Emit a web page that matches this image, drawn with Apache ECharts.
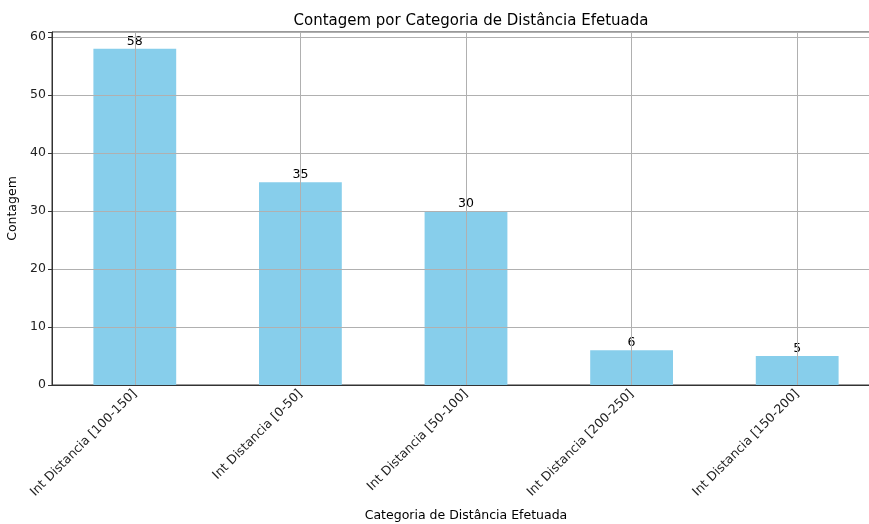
<!DOCTYPE html>
<html>
<head>
<meta charset="utf-8">
<script src="https://cdn.jsdelivr.net/npm/echarts@6/dist/echarts.min.js"></script>
<style>
  html, body { margin: 0; padding: 0; background: #fff; overflow: hidden; }
  #chart { width: 869px; height: 524px; }
</style>
</head>
<body>
<div id="chart"></div>
<script>
const categories = [
  'Int Distancia [100-150]',
  'Int Distancia [0-50]',
  'Int Distancia [50-100]',
  'Int Distancia [200-250]',
  'Int Distancia [150-200]',
];
const counts = [58, 35, 30, 6, 5];
const yTicks = [0, 10, 20, 30, 40, 50, 60];

const font = 'DejaVu Sans';
const gridColor = '#b0b0b0';

const chart = echarts.init(document.getElementById('chart'));
chart.setOption({
  animation: false,
  textStyle: { fontFamily: font },
  title: {
    text: 'Contagem por Categoria de Distância Efetuada',
    left: 466,
    textAlign: 'center',
    top: 9,
    textStyle: { fontSize: 15, fontWeight: 'normal', color: '#000', fontFamily: font },
  },
  grid: {
    left: 52,
    top: 32,
    width: 828,
    height: 353,
    outerBoundsMode: 'none',
    containLabel: false,
    show: true,
    borderColor: '#333',
    borderWidth: 1,
    backgroundColor: 'transparent',
  },
  xAxis: {
    type: 'category',
    data: categories,
    z: 3,
    name: 'Categoria de Distância Efetuada',
    nameLocation: 'middle',
    nameGap: 124,
    nameTextStyle: { fontSize: 12.5, color: '#000', fontFamily: font },
    axisLine: { lineStyle: { color: '#333', width: 1 } },
    axisTick: { alignWithLabel: true, length: 4, lineStyle: { color: '#333' } },
    axisLabel: { rotate: 45, fontSize: 12.5, color: '#222', margin: 7, interval: 0 },
    splitLine: { show: true, alignWithLabel: true, lineStyle: { color: gridColor, width: 1 } },
  },
  yAxis: {
    type: 'value',
    min: 0,
    max: 60.9,
    interval: 10,
    z: 3,
    name: 'Contagem',
    nameLocation: 'middle',
    nameGap: 29,
    nameTextStyle: { fontSize: 12.5, color: '#000', fontFamily: font },
    axisLine: { show: true, lineStyle: { color: '#333', width: 1 } },
    axisTick: { show: true, length: 4, lineStyle: { color: '#333' } },
    axisLabel: {
      fontSize: 12.5,
      color: '#222',
      margin: 6,
      formatter: (v) => (yTicks.includes(v) ? String(v) : ''),
    },
    splitLine: { show: true, lineStyle: { color: gridColor, width: 1 } },
  },
  series: [
    {
      type: 'bar',
      data: counts,
      barWidth: '50%',
      itemStyle: { color: '#87CEEB' },
      label: {
        show: true,
        position: 'top',
        distance: 1,
        fontSize: 12.5,
        color: '#000',
        fontFamily: font,
      },
    },
  ],
});
</script>
</body>
</html>
